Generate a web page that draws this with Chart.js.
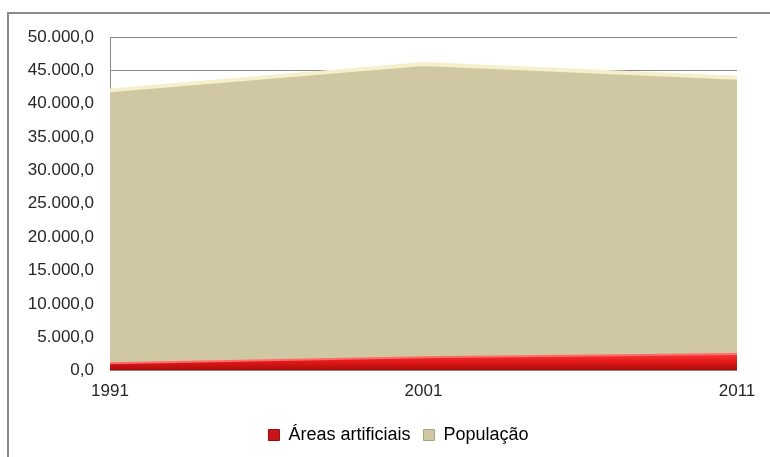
<!DOCTYPE html>
<html>
<head>
<meta charset="utf-8">
<script src="https://cdn.jsdelivr.net/npm/chart.js@4/dist/chart.umd.min.js"></script>
<style>
    html, body { margin: 0; padding: 0; background: #fff; overflow: hidden; }
    #frame {
        position: absolute; left: 7px; top: 12px;
        width: 790px; height: 470px;
        border: 2px solid #8a8a8a;
    }
    #wrap { position: absolute; left: 0; top: 0; width: 770px; height: 457px; }
</style>
</head>
<body>
<div id="frame"></div>
<div id="wrap"><canvas id="areaChart" width="770" height="457"></canvas></div>
<script>
const years = ['1991', '2001', '2011'];
const areasArtificiais = [1100, 2000, 2500];
const populacao = [42000, 45950, 43900];

const FONT = '"Liberation Sans", Arial, sans-serif';

function formatPt(value) {
    const parts = Math.abs(value).toFixed(1).split('.');
    const intPart = parts[0].replace(/\B(?=(\d{3})+(?!\d))/g, '.');
    return (value < 0 ? '-' : '') + intPart + ',' + parts[1];
}

function redFill(context) {
    const area = context.chart.chartArea;
    if (!area) return '#e01b1b';
    const g = context.chart.ctx.createLinearGradient(0, area.bottom - 18, 0, area.bottom);
    g.addColorStop(0, '#ff4040');
    g.addColorStop(0.5, '#e31818');
    g.addColorStop(1, '#a80c0c');
    return g;
}

// nudge the legend a bit to the right of the default centre
const legendShift = {
    id: 'legendShift',
    afterLayout(chart) {
        if (chart.legend) {
            chart.legend.left += 30;
            chart.legend.right += 30;
        }
    }
};

const ctx = document.getElementById('areaChart').getContext('2d');
const chart = new Chart(ctx, {
    type: 'line',
    data: {
        labels: years,
        datasets: [{
            label: 'Áreas artificiais',
            data: areasArtificiais,
            fill: 'origin',
            backgroundColor: redFill,
            borderColor: '#ff6a6a',
            borderWidth: 2,
            pointRadius: 0,
            tension: 0
        }, {
            label: 'População',
            data: populacao,
            fill: 'origin',
            backgroundColor: '#cfc8a2',
            borderColor: '#f4f0cc',
            borderWidth: 4,
            pointRadius: 0,
            tension: 0
        }]
    },
    plugins: [legendShift],
    options: {
        responsive: false,
        animation: false,
        layout: {
            padding: { top: 37, right: 33, bottom: 3, left: 0 }
        },
        plugins: {
            tooltip: { enabled: false },
            legend: {
                position: 'bottom',
                labels: {
                    color: '#262626',
                    font: { size: 18, family: FONT },
                    boxWidth: 11,
                    boxHeight: 11,
                    padding: 13,
                    generateLabels: function(chart) {
                        const fills = ['#c8141a', '#cfc8a2'];
                        const strokes = ['#9a0c0c', '#a9a384'];
                        return chart.data.datasets.map((ds, i) => ({
                            text: ds.label,
                            fillStyle: fills[i],
                            strokeStyle: strokes[i],
                            lineWidth: 1,
                            datasetIndex: i,
                            hidden: false
                        }));
                    }
                }
            }
        },
        scales: {
            x: {
                offset: false,
                grid: { display: false, drawTicks: false },
                border: { display: false },
                ticks: {
                    color: '#262626',
                    padding: 11,
                    maxRotation: 0,
                    font: { size: 17, family: FONT }
                }
            },
            y: {
                min: 0,
                max: 50000,
                grid: { color: '#8a8a8a', drawTicks: false },
                border: { display: true, color: '#8a8a8a' },
                ticks: {
                    stepSize: 5000,
                    color: '#262626',
                    padding: 16,
                    font: { size: 17, family: FONT },
                    callback: function(value) {
                        return formatPt(value);
                    }
                },
                afterFit: function(scale) {
                    scale.width = 110;
                }
            }
        }
    }
});
</script>
</body>
</html>
